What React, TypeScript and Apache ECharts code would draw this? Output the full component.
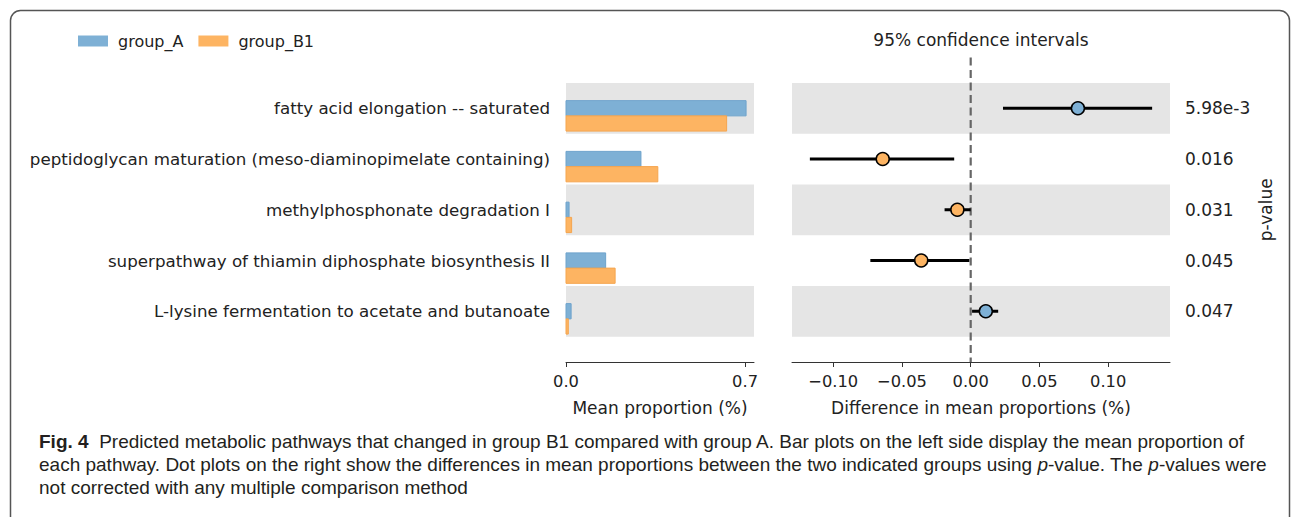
import React, { useEffect, useRef } from "react";
import * as echarts from "echarts";

const pathways = [
  "fatty acid elongation -- saturated",
  "peptidoglycan maturation (meso-diaminopimelate containing)",
  "methylphosphonate degradation I",
  "superpathway of thiamin diphosphate biosynthesis II",
  "L-lysine fermentation to acetate and butanoate",
];
const groupAMean = [0.704, 0.293, 0.012, 0.155, 0.02];
const groupB1Mean = [0.628, 0.359, 0.022, 0.192, 0.009];
const diffMean = [0.078, -0.064, -0.0097, -0.036, 0.011];
const ciLow = [0.0235, -0.117, -0.019, -0.073, 0.001];
const ciHigh = [0.132, -0.012, 0.0, -0.001, 0.02];
const pValues = ["5.98e-3", "0.016", "0.031", "0.045", "0.047"];
const leftTicks = [0, 0.7];
const rightTicks = [-0.1, -0.05, 0, 0.05, 0.1];

const BLUE = "#7eb0d5";
const BLUE_EDGE = "#6ea3cc";
const ORANGE = "#fdb462";
const ORANGE_EDGE = "#f5a54f";
const BAND = "#e5e5e5";
const FONT = "DejaVu Sans";
const CAP_FONT = "'Liberation Sans', sans-serif";
const CAP_SIZE = 19;

export default function App() {
  const ref = useRef<HTMLDivElement>(null);
  useEffect(() => {
    document.body.style.margin = "0";
    const chart = echarts.init(ref.current!, null, { renderer: "svg" });
    const rows = pathways.map((_, i) => i);
    const bandAreas = [
      [{ yAxis: -0.5 }, { yAxis: 0.5 }],
      [{ yAxis: 1.5 }, { yAxis: 2.5 }],
      [{ yAxis: 3.5 }, { yAxis: 4.5 }],
    ];
    const barSeries = (name: string, vals: number[], color: string, edge: string, off: number) => ({
      type: "custom",
      name,
      xAxisIndex: 0,
      yAxisIndex: 0,
      z: 3,
      itemStyle: { color },
      data: rows.map((r) => [r, vals[r]]),
      renderItem: (params: any, api: any) => {
        const r = api.value(0);
        const v = api.value(1);
        const p0 = api.coord([0, r + off]);
        const p1 = api.coord([v, r + off + 0.3]);
        return {
          type: "rect",
          shape: { x: p0[0], y: p0[1], width: p1[0] - p0[0], height: p1[1] - p0[1] },
          style: { fill: color, stroke: edge, lineWidth: 1 },
        };
      },
    });
    const yBase = {
      type: "value",
      min: -1,
      max: 5,
      inverse: true,
      splitLine: { show: false },
      axisLine: { show: false },
      axisTick: { show: false },
    };
    const xLine = { onZero: false, lineStyle: { color: "#333", width: 1 } };
    chart.setOption({
      animation: false,
      textStyle: { fontFamily: FONT },
      legend: {
        left: 78,
        top: 33,
        padding: 0,
        itemWidth: 30,
        itemHeight: 11,
        itemGap: 15,
        icon: "rect",
        textStyle: { fontSize: 16, color: "#222", fontFamily: FONT, padding: [0, 0, 0, 5] },
        data: [
          { name: "group_A", itemStyle: { color: BLUE } },
          { name: "group_B1", itemStyle: { color: ORANGE } },
        ],
      },
      grid: [
        { left: 566, width: 188, top: 57.5, height: 304.5 },
        { left: 792, width: 378, top: 57.5, height: 304.5 },
      ],
      xAxis: [
        {
          type: "value",
          gridIndex: 0,
          min: 0,
          max: 0.735,
          splitLine: { show: false },
          axisLine: xLine,
          axisTick: { customValues: leftTicks, length: 5, lineStyle: { color: "#333" } },
          axisLabel: {
            customValues: leftTicks,
            formatter: (v: number) => v.toFixed(1),
            fontSize: 16.3,
            color: "#222",
            margin: 11,
            fontFamily: FONT,
          },
          name: "Mean proportion (%)",
          nameLocation: "middle",
          nameGap: 37,
          nameTextStyle: { fontSize: 17, color: "#222", fontFamily: FONT },
        },
        {
          type: "value",
          gridIndex: 1,
          min: -0.13,
          max: 0.145,
          splitLine: { show: false },
          axisLine: xLine,
          axisTick: { customValues: rightTicks, length: 5, lineStyle: { color: "#333" } },
          axisLabel: {
            customValues: rightTicks,
            formatter: (v: number) => (v < 0 ? "\u2212" + Math.abs(v).toFixed(2) : v.toFixed(2)),
            fontSize: 16.3,
            color: "#222",
            margin: 11,
            fontFamily: FONT,
          },
          name: "Difference in mean proportions (%)",
          nameLocation: "middle",
          nameGap: 37,
          nameTextStyle: { fontSize: 17, color: "#222", fontFamily: FONT },
        },
      ],
      yAxis: [
        {
          ...yBase,
          gridIndex: 0,
          axisLabel: {
            customValues: rows,
            formatter: (v: number) => pathways[Math.round(v)] ?? "",
            fontSize: 16.7,
            color: "#222",
            margin: 16,
            fontFamily: FONT,
          },
        },
        {
          ...yBase,
          gridIndex: 1,
          position: "right",
          axisLabel: {
            customValues: rows,
            formatter: (v: number) => pValues[Math.round(v)] ?? "",
            fontSize: 17,
            color: "#222",
            margin: 15,
            fontFamily: FONT,
          },
          name: "p-value",
          nameLocation: "middle",
          nameRotate: 90,
          nameGap: 87,
          nameTextStyle: { fontSize: 17, color: "#222", fontFamily: FONT },
        },
      ],
      series: [
        {
          type: "line",
          xAxisIndex: 0,
          yAxisIndex: 0,
          data: [],
          markArea: { silent: true, itemStyle: { color: BAND }, data: bandAreas },
        },
        {
          type: "line",
          xAxisIndex: 1,
          yAxisIndex: 1,
          data: [],
          markArea: { silent: true, itemStyle: { color: BAND }, data: bandAreas },
        },
        barSeries("group_A", groupAMean, BLUE, BLUE_EDGE, -0.15),
        barSeries("group_B1", groupB1Mean, ORANGE, ORANGE_EDGE, 0.15),
        {
          type: "line",
          xAxisIndex: 1,
          yAxisIndex: 1,
          z: 3,
          symbol: "none",
          data: [
            [0, -1],
            [0, 5],
          ],
          lineStyle: { color: "#666", width: 2.2, type: [8, 4.5] },
        },
        {
          type: "custom",
          xAxisIndex: 1,
          yAxisIndex: 1,
          z: 4,
          data: rows.map((r) => [r, diffMean[r], ciLow[r], ciHigh[r]]),
          renderItem: (params: any, api: any) => {
            const r = api.value(0);
            const m = api.coord([api.value(1), r]);
            const lo = api.coord([api.value(2), r]);
            const hi = api.coord([api.value(3), r]);
            return {
              type: "group",
              children: [
                {
                  type: "line",
                  shape: { x1: lo[0], y1: lo[1], x2: hi[0], y2: hi[1] },
                  style: { stroke: "#000", lineWidth: 3 },
                },
                {
                  type: "circle",
                  shape: { cx: m[0], cy: m[1], r: 6.5 },
                  style: { fill: api.value(1) > 0 ? BLUE : ORANGE, stroke: "#000", lineWidth: 1.5 },
                },
              ],
            };
          },
        },
      ],
      graphic: [
        {
          type: "rect",
          shape: { x: 10.5, y: 10.5, width: 1279, height: 520, r: 10 },
          style: { fill: "none", stroke: "#555", lineWidth: 1.5 },
          silent: true,
        },
        {
          type: "text",
          x: 981,
          y: 40,
          style: {
            text: "95% confidence intervals",
            font: `17px ${FONT}`,
            fill: "#222",
            align: "center",
            verticalAlign: "middle",
          },
        },
        {
          type: "text",
          x: 39,
          y: 441,
          style: {
            text: "{b|Fig. 4}  Predicted metabolic pathways that changed in group B1 compared with group A. Bar plots on the left side display the mean proportion of",
            font: `${CAP_SIZE}px ${CAP_FONT}`,
            fill: "#231f20",
            verticalAlign: "middle",
            rich: { b: { fontWeight: "bold", fontSize: CAP_SIZE, fontFamily: CAP_FONT, fill: "#231f20" } },
          },
        },
        {
          type: "text",
          x: 39,
          y: 464,
          style: {
            text: "each pathway. Dot plots on the right show the differences in mean proportions between the two indicated groups using {i|p}-value. The {i|p}-values were",
            font: `${CAP_SIZE}px ${CAP_FONT}`,
            fill: "#231f20",
            verticalAlign: "middle",
            rich: { i: { fontStyle: "italic", fontSize: CAP_SIZE, fontFamily: CAP_FONT, fill: "#231f20" } },
          },
        },
        {
          type: "text",
          x: 39,
          y: 487,
          style: {
            text: "not corrected with any multiple comparison method",
            font: `${CAP_SIZE}px ${CAP_FONT}`,
            fill: "#231f20",
            verticalAlign: "middle",
          },
        },
      ],
    });
    return () => chart.dispose();
  }, []);
  return <div ref={ref} style={{ width: 1293, height: 517 }} />;
}
